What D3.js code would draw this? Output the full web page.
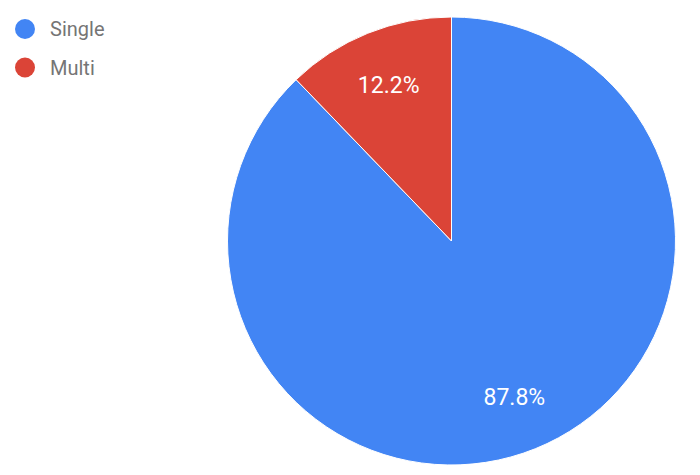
<!DOCTYPE html>
<html>
<head>
<meta charset="utf-8">
<script src="https://cdn.jsdelivr.net/npm/d3@7"></script>
<style>
  body { margin: 0; background: #fff; }
  svg { font-family: Roboto, sans-serif; }
</style>
</head>
<body>
<div id="chart"></div>
<script>
// slice data
var categories = ['Single', 'Multi'];
var values = [87.8, 12.2];
var colours = ['#4285f4', '#db4437'];

var width = 700, height = 475;
var centre = { x: 451.5, y: 241 };
var radius = 224;

var svg = d3.select('#chart').append('svg')
  .attr('width', width)
  .attr('height', height);

var data = categories.map((c, i) => ({ name: c, value: values[i] }));

var colour = d3.scaleOrdinal().domain(categories).range(colours);

// google-style pie: starts at 12 o'clock, clockwise, no sorting
var pie = d3.pie().sort(null).value(d => d.value);
var arc = d3.arc().innerRadius(0).outerRadius(radius);
var labelArc = d3.arc().innerRadius(radius * 0.75).outerRadius(radius * 0.75);

var g = svg.append('g')
  .attr('transform', 'translate(' + centre.x + ',' + centre.y + ')');

var slices = g.selectAll('.slice')
  .data(pie(data))
  .enter()
  .append('g')
  .attr('class', 'slice');

slices.append('path')
  .attr('d', arc)
  .attr('fill', d => colour(d.data.name))
  .attr('stroke', '#fff')
  .attr('stroke-width', 1);

slices.append('text')
  .attr('transform', d => 'translate(' + labelArc.centroid(d) + ')')
  .attr('dy', '0.36em')
  .attr('text-anchor', 'middle')
  .attr('fill', '#fff')
  .style('font-size', '23px')
  .text(d => d.data.value.toFixed(1) + '%');

// legend
var legend = svg.append('g').attr('class', 'legend');
var items = legend.selectAll('g')
  .data(categories)
  .enter()
  .append('g')
  .attr('transform', (d, i) => 'translate(25,' + (29 + i * 38.5) + ')');

items.append('circle')
  .attr('r', 10)
  .attr('fill', d => colour(d));

items.append('text')
  .attr('x', 25)
  .attr('dy', '0.36em')
  .attr('fill', '#757575')
  .style('font-size', '20px')
  .text(d => d);
</script>
</body>
</html>
